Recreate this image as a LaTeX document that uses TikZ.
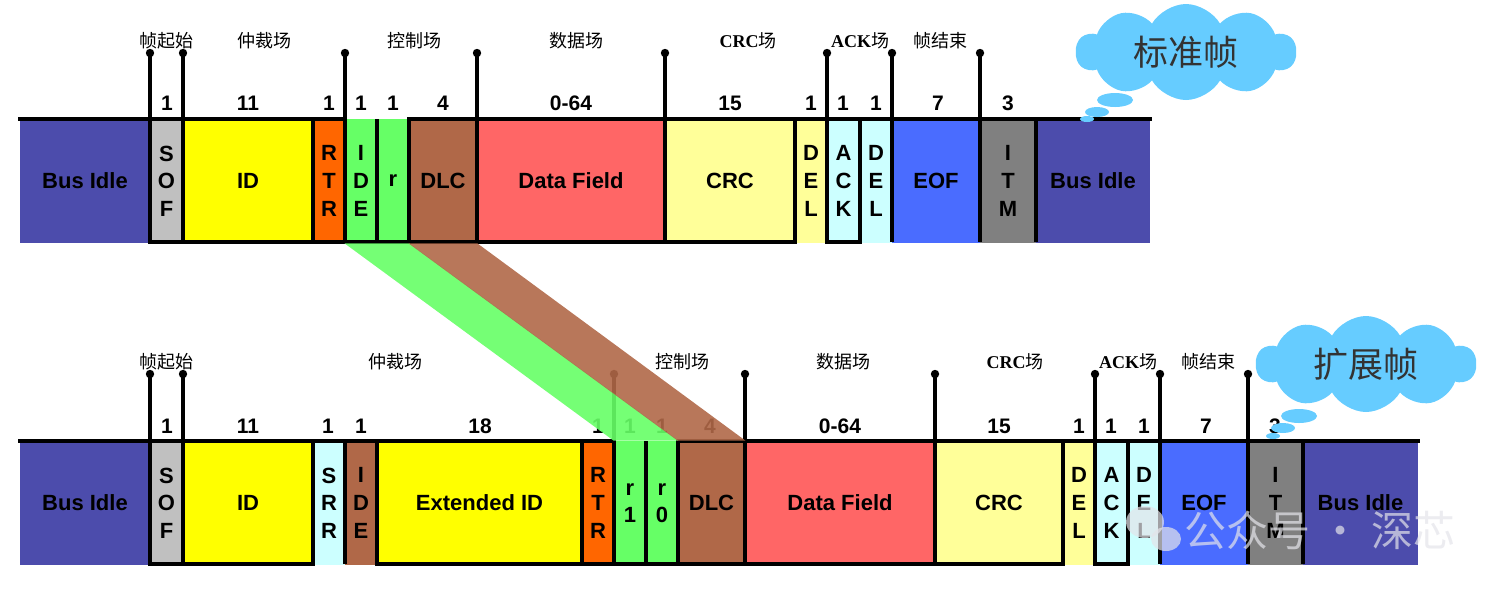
\documentclass[tikz,border=0pt]{standalone}
\usepackage{fontspec}
\setmainfont{Liberation Sans}
\newfontfamily\cjk{Noto Sans CJK SC}
\newfontfamily\tms{Liberation Serif}
\usetikzlibrary{shapes.symbols}
\definecolor{idle}{RGB}{76,76,172}
\definecolor{sofgray}{RGB}{192,192,192}
\definecolor{idyel}{RGB}{255,255,0}
\definecolor{rtrorg}{RGB}{255,102,0}
\definecolor{ctlgrn}{RGB}{102,255,102}
\definecolor{dlcbrn}{RGB}{176,104,72}
\definecolor{datred}{RGB}{255,102,102}
\definecolor{crcyel}{RGB}{255,255,153}
\definecolor{ackcyn}{RGB}{204,255,255}
\definecolor{eofblu}{RGB}{74,108,255}
\definecolor{itmgray}{RGB}{128,128,128}
\definecolor{cloudblu}{RGB}{102,204,255}
\definecolor{wmcol}{RGB}{228,228,234}
\tikzset{
 field/.style={rectangle, inner sep=0pt, minimum height=62pt, align=center,
   font=\bfseries\fontsize{11}{13.8}\selectfont},
 bitnum/.style={font=\bfseries\fontsize{10.5}{12}\selectfont, inner sep=0pt},
 fname/.style={font=\cjk\fontsize{9}{10}\selectfont, inner sep=0pt},
 wave/.style={line width=2.2pt, line cap=rect},
 sepline/.style={line width=2.2pt},
 pinline/.style={line width=1.8pt},
 band/.style={opacity=0.9},
 bubble/.style={cloud, cloud puffs=10, cloud puff arc=120, aspect=2.3, fill=cloudblu,
   inner sep=0pt, minimum width=110pt, minimum height=48pt,
   font=\cjk\fontsize{17.5}{20}\selectfont, text=black!80},
}
\newcommand\cfield[6]{\node[field, fill=#5, minimum width={(#3-#2)*0.5pt}] (#1) at ({(#2+#3)/2},#4) {#6};}
\begin{document}
\begin{tikzpicture}[x=0.5pt,y=-0.5pt]
\useasboundingbox (0,0) rectangle (1497,591);
% ================= standard frame =================
\cfield{idleA}{20}{150}{181}{idle}{Bus Idle}
\cfield{sofA}{150}{183}{181}{sofgray}{S\\O\\F}
\cfield{idA}{183}{313}{181}{idyel}{ID}
\cfield{rtrA}{313}{345}{181}{rtrorg}{R\\T\\R}
\cfield{ideA}{345}{377}{181}{ctlgrn}{I\\D\\E}
\cfield{rA}{377}{409}{181}{ctlgrn}{r}
\cfield{dlcA}{409}{477}{181}{dlcbrn}{DLC}
\cfield{dataA}{477}{665}{181}{datred}{Data Field}
\cfield{crcA}{665}{795}{181}{crcyel}{CRC}
\cfield{cdelA}{795}{827}{181}{crcyel}{D\\E\\L}
\cfield{ackA}{827}{860}{181}{ackcyn}{A\\C\\K}
\cfield{adelA}{860}{892}{181}{ackcyn}{D\\E\\L}
\cfield{eofA}{892}{980}{181}{eofblu}{EOF}
\cfield{itmA}{980}{1036}{181}{itmgray}{I\\T\\M}
\cfield{idleA2}{1036}{1150}{181}{idle}{Bus Idle}
\draw[wave] (20,119) -- (345,119);
\draw[wave] (409,119) -- (1150,119);
\draw[wave] (150,242) -- (795,242);
\draw[wave] (827,242) -- (860,242);
\foreach \x in {150,183,313,345,377,409,477,665,795,827,860,892,980,1036}
  \draw[sepline] (\x,119) -- (\x,242);
\foreach \x in {150,183,345,477,665,827,892,980}
  {\draw[pinline] (\x,119) -- (\x,53); \fill (\x,53) circle[radius=4.2];}
\foreach \x/\t [count=\i] in {167/1,248/11,329/1,361/1,393/1,443/4,571/0-64,730/15,811/1,843/1,876/1,938/7,1008/3}
  \node[bitnum] (bitA\i) at (\x,103) {\t};
\node[fname] (fA1) at (166,41) {帧起始};
\node[fname] (fA2) at (264,41) {仲裁场};
\node[fname] (fA3) at (414,41) {控制场};
\node[fname] (fA4) at (576,41) {数据场};
\node[fname] (fA5) at (748,41) {{\tms\bfseries CRC}场};
\node[fname] (fA6) at (860,41) {{\tms\bfseries ACK}场};
\node[fname] (fA7) at (940,41) {帧结束};
% ================= extended frame =================
\cfield{idleB}{20}{150}{503}{idle}{Bus Idle}
\cfield{sofB}{150}{183}{503}{sofgray}{S\\O\\F}
\cfield{idB}{183}{313}{503}{idyel}{ID}
\cfield{srrB}{313}{345}{503}{ackcyn}{S\\R\\R}
\cfield{ideB}{345}{377}{503}{dlcbrn}{I\\D\\E}
\cfield{extB}{377}{582}{503}{idyel}{Extended ID}
\cfield{rtrB}{582}{614}{503}{rtrorg}{R\\T\\R}
\cfield{r1B}{614}{646}{503}{ctlgrn}{r\\1}
\cfield{r0B}{646}{678}{503}{ctlgrn}{r\\0}
\cfield{dlcB}{678}{745}{503}{dlcbrn}{DLC}
\cfield{dataB}{745}{935}{503}{datred}{Data Field}
\cfield{crcB}{935}{1063}{503}{crcyel}{CRC}
\cfield{cdelB}{1063}{1095}{503}{crcyel}{D\\E\\L}
\cfield{ackB}{1095}{1128}{503}{ackcyn}{A\\C\\K}
\cfield{adelB}{1128}{1160}{503}{ackcyn}{D\\E\\L}
\cfield{eofB}{1160}{1248}{503}{eofblu}{EOF}
\cfield{itmB}{1248}{1303}{503}{itmgray}{I\\T\\M}
\cfield{idleB2}{1303}{1418}{503}{idle}{Bus Idle}
\draw[wave] (20,441) -- (614,441);
\draw[wave] (678,441) -- (1418,441);
\draw[wave] (150,564) -- (313,564);
\draw[wave] (377,564) -- (1063,564);
\draw[wave] (1095,564) -- (1128,564);
\foreach \x in {150,183,313,345,377,582,614,646,678,745,935,1063,1095,1128,1160,1248,1303}
  \draw[sepline] (\x,441) -- (\x,564);
\foreach \x in {150,183,614,745,935,1095,1160,1248}
  {\draw[pinline] (\x,441) -- (\x,374); \fill (\x,374) circle[radius=4.2];}
\foreach \x/\t [count=\i] in {167/1,248/11,328/1,361/1,480/18,598/1,630/1,662/1,710/4,840/0-64,999/15,1079/1,1111/1,1144/1,1206/7,1275/3}
  \node[bitnum] (bitB\i) at (\x,426) {\t};
\node[fname] (fB1) at (166,362) {帧起始};
\node[fname] (fB2) at (395,362) {仲裁场};
\node[fname] (fB3) at (682,362) {控制场};
\node[fname] (fB4) at (843,362) {数据场};
\node[fname] (fB5) at (1015,362) {{\tms\bfseries CRC}场};
\node[fname] (fB6) at (1128,362) {{\tms\bfseries ACK}场};
\node[fname] (fB7) at (1208,362) {帧结束};
% ================= mapping bands =================
\fill[ctlgrn, band] (ideA.south west) -- (rA.south east) -- (r0B.north east) -- (r1B.north west) -- cycle;
\fill[dlcbrn, band] (dlcA.south west) -- (dlcA.south east) -- (dlcB.north east) -- (dlcB.north west) -- cycle;
% ================= clouds =================
\node[bubble] (cloudA) at (1186,52) {标准帧};
\fill[cloudblu] (1115,100) ellipse[x radius=18, y radius=7];
\fill[cloudblu] (1097,112) ellipse[x radius=12, y radius=5];
\fill[cloudblu] (1087,119) ellipse[x radius=7, y radius=3];
\node[bubble] (cloudB) at (1366,364) {扩展帧};
\fill[cloudblu] (1299,416) ellipse[x radius=18, y radius=7];
\fill[cloudblu] (1283,428) ellipse[x radius=12, y radius=5];
\fill[cloudblu] (1273,436) ellipse[x radius=7, y radius=3];
% ================= watermark =================
\fill[wmcol, opacity=0.7] (1145,522) ellipse[x radius=19, y radius=16];
\fill[wmcol, opacity=0.7] (1166,539) ellipse[x radius=15, y radius=12];
\node[font=\cjk\fontsize{21}{24}\selectfont, text=wmcol, opacity=0.7, inner sep=0pt] (wm) at (1320,530) {公众号 · 深芯};
\end{tikzpicture}
\end{document}
